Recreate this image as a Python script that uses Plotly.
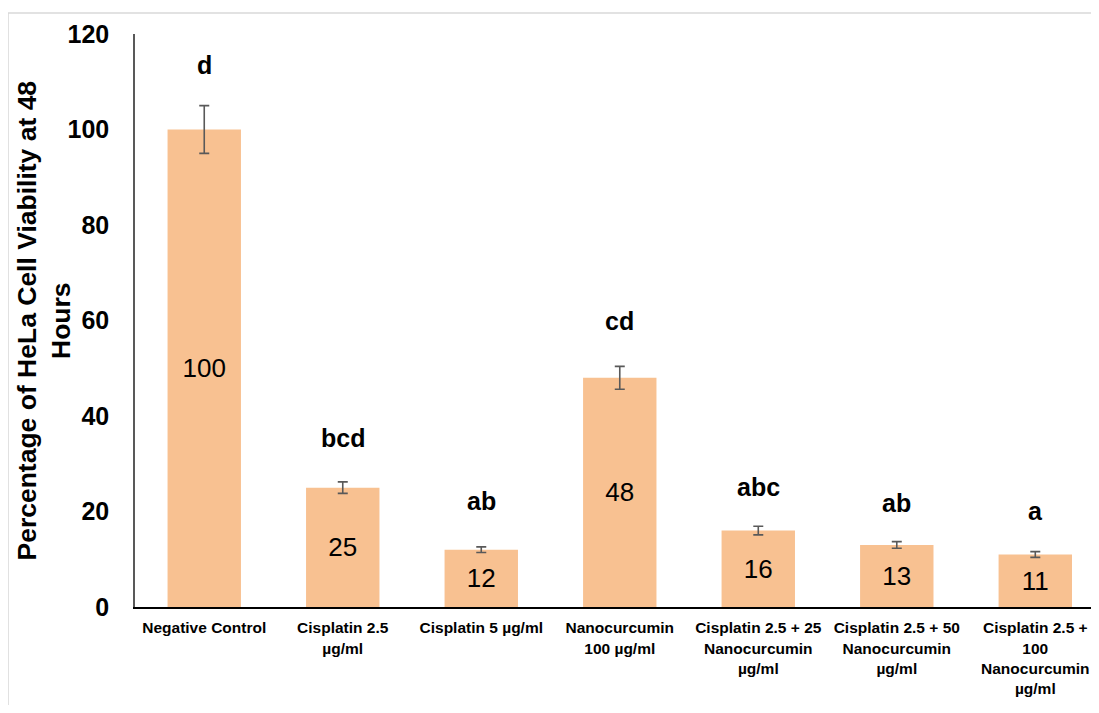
import plotly.graph_objects as go

categories = ["Negative Control", "Cisplatin 2.5<br>µg/ml", "Cisplatin 5 µg/ml",
              "Nanocurcumin<br>100 µg/ml", "Cisplatin 2.5 + 25<br>Nanocurcumin<br>µg/ml",
              "Cisplatin 2.5 + 50<br>Nanocurcumin<br>µg/ml",
              "Cisplatin 2.5 +<br>100<br>Nanocurcumin<br>µg/ml"]
values = [100, 25, 12, 48, 16, 13, 11]
errors = [5, 1.2, 0.6, 2.4, 0.9, 0.7, 0.6]
letters = ["d", "bcd", "ab", "cd", "abc", "ab", "a"]
letter_y = [113.5, 35.3, 22.3, 59.8, 25.2, 21.8, 20.2]
y_ticks = [0, 20, 40, 60, 80, 100, 120]
y_title = "Percentage of HeLa Cell Viability at 48<br>Hours"

FONT = "Arial, Liberation Sans"

fig = go.Figure()
fig.add_trace(go.Bar(
    x=categories, y=values,
    width=0.53,
    marker=dict(color="#F8C191", line=dict(width=0)),
    error_y=dict(type="data", array=errors, visible=True, color="#595959",
                 thickness=1.6, width=5),
    text=[str(v) for v in values], textposition="inside", insidetextanchor="middle",
    textfont=dict(family=FONT, size=26, color="black"),
    textangle=0, cliponaxis=False,
))

for c, l, ly in zip(categories, letters, letter_y):
    fig.add_annotation(x=c, y=ly, text="<b>%s</b>" % l, showarrow=False,
                       font=dict(family=FONT, size=25, color="black"))

fig.add_annotation(xref="paper", yref="paper", x=-0.0954, y=0.5,
                   xanchor="center", yanchor="middle", textangle=-90,
                   text="<b>%s</b>" % y_title, showarrow=False,
                   font=dict(family=FONT, size=26.5, color="black"))

fig.add_shape(type="rect", xref="paper", yref="paper",
              x0=-0.1317, x1=1.02, y0=-0.2, y1=1.0367,
              line=dict(color="#D9D9D9", width=1.5), fillcolor="rgba(0,0,0,0)", layer="below")

fig.update_layout(
    width=1091, height=697,
    margin=dict(l=127, r=0, t=26, b=98),
    plot_bgcolor="white", paper_bgcolor="white",
    showlegend=False,
    font=dict(family=FONT, color="black"),
    xaxis=dict(type="category", range=[-0.5, 6.46], showgrid=False, automargin=False,
               showline=True, linecolor="#000000", linewidth=1.5, ticks="",
               ticklabelstandoff=6,
               tickfont=dict(size=15.5, family=FONT, color="black", weight="bold")),
    yaxis=dict(range=[0, 120], tickvals=y_ticks, showgrid=False, zeroline=False, automargin=False,
               showline=True, linecolor="#595959", linewidth=1.5, ticks="",
               ticklabelstandoff=19,
               tickfont=dict(size=25, family=FONT, color="black", weight="bold")),
)

fig.write_html("out.html")
